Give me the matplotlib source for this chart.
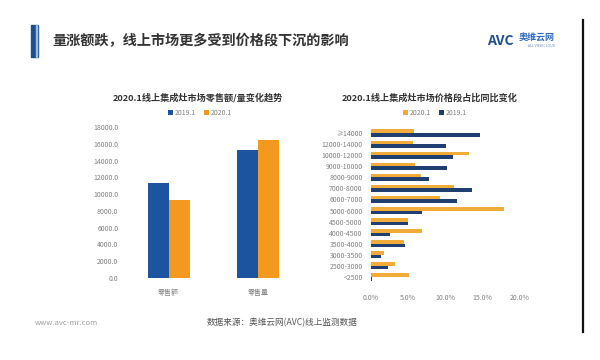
import matplotlib
matplotlib.use("Agg")
import matplotlib.pyplot as plt
import numpy as np

plt.rcParams['font.family'] = ['Noto Sans CJK SC', 'DejaVu Sans']

# left chart: retail value / volume
left_cats = ["零售额", "零售量"]
left_2019 = [11300, 15200]
left_2020 = [9350, 16400]
left_ticks = np.arange(0, 18001, 2000)

# right chart: price band share
price_bands = ["≥14000", "12000-14000", "10000-12000", "9000-10000", "8000-9000",
               "7000-8000", "6000-7000", "5000-6000", "4500-5000", "4000-4500",
               "3500-4000", "3000-3500", "2500-3000", "<2500"]
share_2020 = [5.8, 5.6, 13.1, 5.9, 6.7, 11.1, 9.3, 17.9, 4.9, 6.8, 4.4, 1.7, 3.2, 5.1]
share_2019 = [14.6, 10.0, 11.0, 10.2, 7.8, 13.6, 11.5, 6.9, 4.9, 2.6, 4.5, 1.3, 2.3, 0.2]
share_ticks = [0, 5, 10, 15, 20]

W, H = 600, 360
fig = plt.figure(figsize=(6, 3.6), dpi=100)
fig.patch.set_facecolor("white")


def fx(px):
    return px / W


def fy(py):
    return 1 - py / H


# header
fig.patches.append(plt.Rectangle((fx(31), fy(57)), fx(7), 32 / H, transform=fig.transFigure,
                                 color="#1d4f91", zorder=2))
fig.patches.append(plt.Rectangle((fx(35.5), fy(57)), fx(1.2), 32 / H, transform=fig.transFigure,
                                 color="#9fbde0", zorder=3))
fig.text(fx(52), fy(41), "量涨额跌，线上市场更多受到价格段下沉的影响", fontsize=10.2,
         fontweight="bold", color="#333333", va="center", ha="left")
fig.text(fx(487), fy(41), "AVC", fontsize=10, fontweight="bold", color="#1d4f91",
         va="center", ha="left", style="italic")
fig.text(fx(519), fy(38), "奥维云网", fontsize=6.5, fontweight="bold", color="#2f6cc0",
         va="center", ha="left")
fig.text(fx(528), fy(46), "ALL VIEW CLOUD", fontsize=2.5, color="#6a8cc0",
         va="center", ha="left")
fig.add_artist(plt.Line2D([fx(583), fx(583)], [fy(20), fy(332)], color="#111111", lw=1.6))

# footer
fig.text(fx(35), fy(323), "www.avc-mr.com", fontsize=5.5, color="#a0a0a0", va="center", ha="left")
fig.text(fx(282), fy(323), "数据来源：奥维云网(AVC)线上监测数据", fontsize=6.2, color="#555555",
         va="center", ha="center")

# ---- left chart ----
blue_l = "#1c54a0"
orange_l = "#f39a1e"
ax1 = fig.add_axes([fx(124), fy(278), fx(303 - 124), (278 - 127) / H])
x = np.arange(len(left_cats))
bw = 0.235
ax1.bar(x - bw / 2, left_2019, bw, color=blue_l, label="2019.1")
ax1.bar(x + bw / 2, left_2020, bw, color=orange_l, label="2020.1")
ax1.set_xlim(-0.5, 1.5)
ax1.set_ylim(0, 18000)
ax1.set_yticks(left_ticks)
ax1.set_yticklabels([f"{v:.1f}" for v in left_ticks])
ax1.set_xticks(x)
ax1.set_xticklabels(left_cats)
for s in ax1.spines.values():
    s.set_visible(False)
ax1.tick_params(length=0, labelsize=5, labelcolor="#808080", pad=4)
ax1.tick_params(axis="x", pad=8)
ax1.patch.set_alpha(0)
fig.text(fx(198), fy(98), "2020.1线上集成灶市场零售额/量变化趋势", fontsize=6.6,
         fontweight="bold", color="#333333", ha="center", va="center")
ax1.legend(loc="center", bbox_to_anchor=(fx(200), fy(113)), bbox_transform=fig.transFigure,
           ncol=2, frameon=False, fontsize=5, labelcolor="#808080", handlelength=0.7,
           handleheight=0.7, handletextpad=0.3, columnspacing=1.2)

# ---- right chart ----
blue_r = "#1f3f70"
orange_r = "#f0ab3a"
ax2 = fig.add_axes([fx(371), fy(282.5), fx(520 - 371), (282.5 - 127.5) / H])
y = np.arange(len(price_bands))
bh = 0.32
ax2.barh(y - bh / 2, share_2020, bh, color=orange_r, label="2020.1")
ax2.barh(y + bh / 2, share_2019, bh, color=blue_r, label="2019.1")
ax2.set_ylim(len(price_bands) - 0.5, -0.5)
ax2.set_xlim(0, 20)
ax2.set_yticks(y)
ax2.set_yticklabels(price_bands)
ax2.set_xticks(share_ticks)
ax2.set_xticklabels([f"{v:.1f}%" for v in share_ticks])
for s in ax2.spines.values():
    s.set_visible(False)
ax2.tick_params(length=0, labelsize=5, labelcolor="#808080", pad=6)
ax2.tick_params(axis="x", pad=8)
ax2.patch.set_alpha(0)
fig.text(fx(430), fy(98), "2020.1线上集成灶市场价格段占比同比变化", fontsize=6.6,
         fontweight="bold", color="#333333", ha="center", va="center")
ax2.legend(loc="center", bbox_to_anchor=(fx(435), fy(113)), bbox_transform=fig.transFigure,
           ncol=2, frameon=False, fontsize=5, labelcolor="#808080", handlelength=0.7,
           handleheight=0.7, handletextpad=0.3, columnspacing=1.2)

fig.savefig("out.png", dpi=100)
